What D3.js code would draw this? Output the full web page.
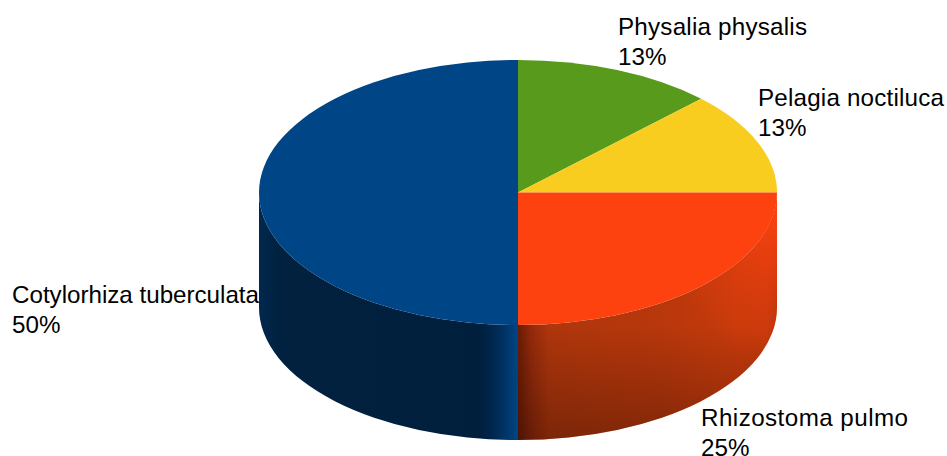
<!DOCTYPE html>
<html><head><meta charset="utf-8">
<script src="https://cdn.jsdelivr.net/npm/d3@7/dist/d3.min.js"></script>
<style>html,body{margin:0;background:#fff}svg{display:block}text{font-family:"Liberation Sans",Arial,sans-serif;font-size:24.2px;fill:#000}</style>
</head><body><svg id="c" width="947" height="456"></svg>
<script>
const names=["Physalia physalis","Pelagia noctiluca","Rhizostoma pulmo","Cotylorhiza tuberculata"];
const values=[12.5,12.5,25,50];
const percentLabels=["13%","13%","25%","50%"];
const colors=["#579a1c","#f8cd20","#fd4210","#004586"];
const labelX=[618,758,701,12];
const labelY=[35,106,425.5,303];
const labelWidth=[189,186,207,247];
const cx=518,cy=192.5,rx=259,ry=132.5,depth=115;
const svg=d3.select("#c");
const pie=d3.pie().value(d=>d).sort(null)(values);
const defs=svg.append("defs");
function grad(id,x1,y1,x2,y2,stops){const g=defs.append("linearGradient").attr("id",id).attr("gradientUnits","userSpaceOnUse").attr("x1",x1).attr("y1",y1).attr("x2",x2).attr("y2",y2);
 stops.forEach(s=>g.append("stop").attr("offset",s[0]).attr("stop-color",s[1]).attr("stop-opacity",s[2]===undefined?1:s[2]));}
grad("sideR",cx,0,cx+rx,0,[[0,"#6a1c05"],[.05,"#93290a"],[.12,"#b0360c"],[.55,"#b8370b"],[.85,"#c63a0b"],[.96,"#c0380b"],[1,"#a83009"]]);
grad("sideB",cx-rx,0,cx,0,[[0,"#00284f"],[.08,"#00213f"],[.85,"#001f3d"],[.9,"#00264d"],[.95,"#003566"],[1,"#004586"]]);
grad("shadeR",0,cy+ry,0,cy+ry+depth,[[0,"#000",0],[1,"#000",.3]]);
grad("glowR",cx+rx-8,cy+8,cx+rx-120,cy+130,[[0,"#fd4210",1],[.45,"#fd4210",.35],[.8,"#fd4210",0]]);
const pt=a=>[cx+rx*Math.sin(a),cy-ry*Math.cos(a)];
function topPath(s,e){const p0=pt(s),p1=pt(e);const large=(e-s)>Math.PI?1:0;
 return `M${cx},${cy}L${p0}A${rx},${ry} 0 ${large} 1 ${p1}Z`;}
// the wall is only visible on the front half of the ellipse
function sidePath(s,e){const a=Math.max(s,Math.PI/2),b=Math.min(e,3*Math.PI/2);const p0=pt(a),p1=pt(b);
 return `M${p0}A${rx},${ry} 0 0 1 ${p1}L${p1[0]},${p1[1]+depth}A${rx},${ry} 0 0 0 ${p0[0]},${p0[1]+depth}Z`;}
const sideFill={2:["url(#sideR)","url(#shadeR)","url(#glowR)"],3:["url(#sideB)"]};
pie.forEach((d,i)=>{(sideFill[i]||[]).forEach(f=>svg.append("path").attr("d",sidePath(d.startAngle,d.endAngle)).attr("fill",f));});
svg.selectAll("path.top").data(pie).join("path").attr("class","top").attr("d",d=>topPath(d.startAngle,d.endAngle)).attr("fill",(d,i)=>colors[i]);
names.forEach((n,i)=>{
 svg.append("text").attr("x",labelX[i]).attr("y",labelY[i]).attr("textLength",labelWidth[i]).attr("lengthAdjust","spacing").text(n);
 svg.append("text").attr("x",labelX[i]).attr("y",labelY[i]+30).text(percentLabels[i]);
});
</script></body></html>
